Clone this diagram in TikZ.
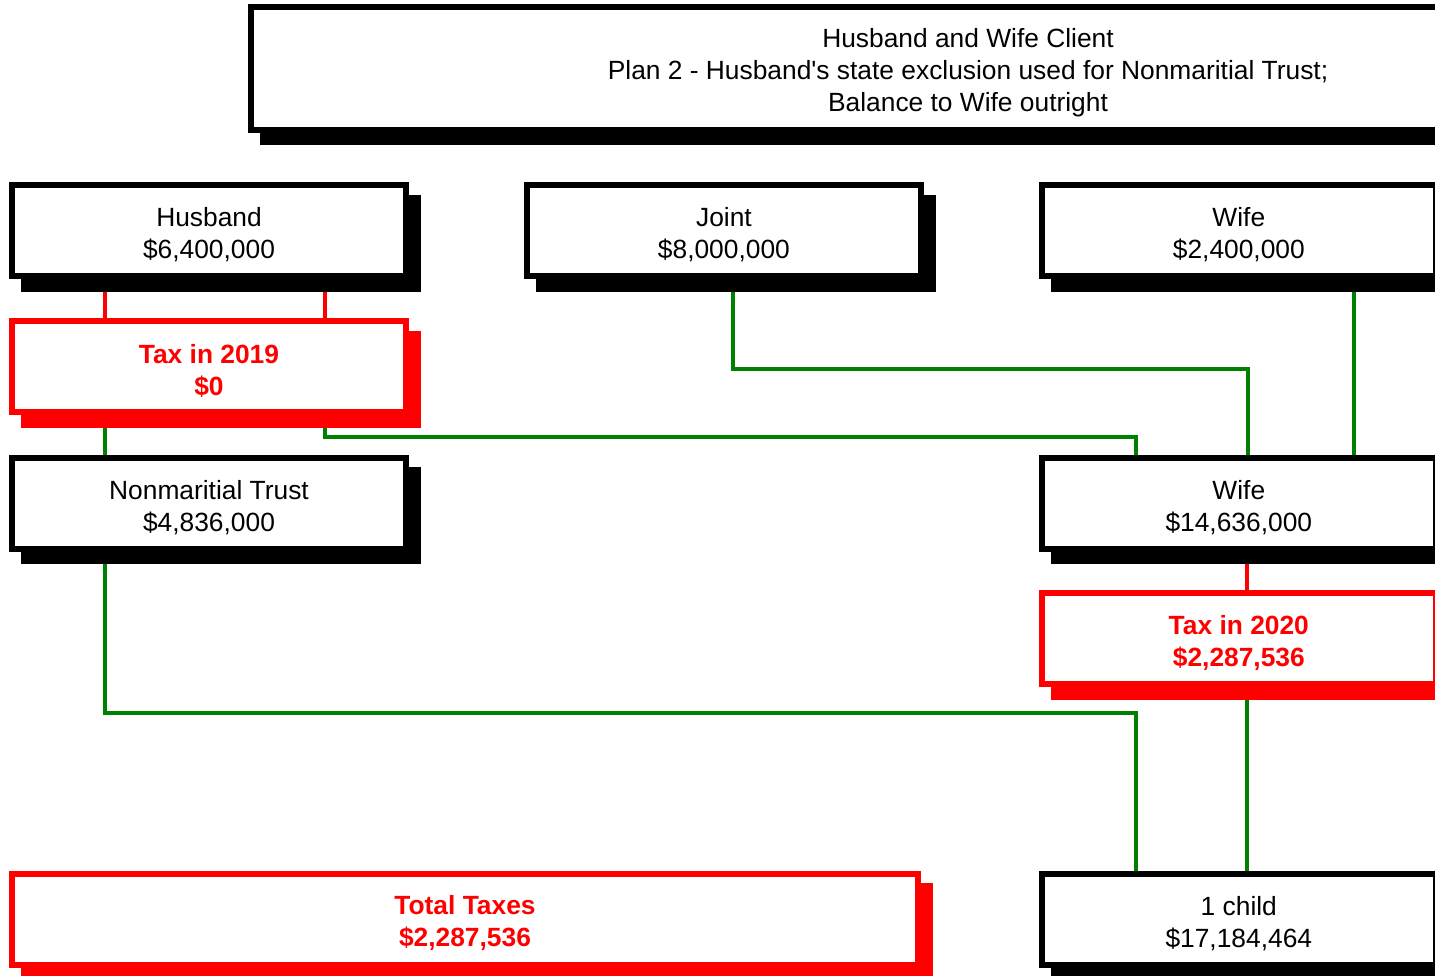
\documentclass[tikz,border=0pt]{standalone}
\usepackage{fontspec}
\setmainfont{Liberation Sans}
\usetikzlibrary{shadows}
\usetikzlibrary{backgrounds}
\definecolor{taxred}{RGB}{255,0,0}
\definecolor{giftgreen}{RGB}{0,128,0}

\begin{document}
\begin{tikzpicture}[x=0.02cm,y=-0.02cm,node distance=2.73cm,
  boxbase/.style={rectangle,fill=white,line width=0.12cm,minimum width=7.88cm,
    minimum height=1.82cm,align=center,text height=33.5pt,font=\fontsize{15}{18.2}\selectfont},
  estate/.style={boxbase,draw=black,
    general shadow={shadow xshift=0.24cm,shadow yshift=-0.25cm,fill=black,draw=black}},
  taxbox/.style={boxbase,draw=taxred,text=taxred,font=\fontsize{15}{18.2}\selectfont\bfseries,
    general shadow={shadow xshift=0.24cm,shadow yshift=-0.25cm,fill=taxred,draw=taxred}},
  taxlink/.style={draw=taxred,line width=0.07cm},
  giftlink/.style={draw=giftgreen,line width=0.07cm}]
  \useasboundingbox (0,0) rectangle (1435,975);
  \clip (0,0) rectangle (1435,975);

  \node[estate,minimum width=28.7cm,minimum height=2.46cm,text height=51.7pt] (title) at (968,68.5)
    {Husband and Wife Client\\Plan 2 - Husband\textquotesingle s state exclusion used for Nonmaritial Trust;\\Balance to Wife outright};
  \node[estate] (husband) at (209,230.5) {Husband\\\$6,400,000};
  \node[estate] (joint) [right of=husband,node distance=10.3cm] {Joint\\\$8,000,000};
  \node[estate] (wife) [right of=joint,node distance=10.3cm] {Wife\\\$2,400,000};
  \node[taxbox] (tax19) [below of=husband] {Tax in 2019\\\$0};
  \node[estate] (trust) [below of=tax19] {Nonmaritial Trust\\\$4,836,000};
  \node[estate] (survivor) [below of=wife,node distance=5.46cm] {Wife\\\$14,636,000};
  \node[taxbox] (tax20) [below of=survivor,node distance=2.71cm] {Tax in 2020\\\$2,287,536};
  \node[estate] (child) [below of=tax20,node distance=5.61cm] {1 child\\\$17,184,464};
  \node[taxbox,minimum width=18.12cm] (total) at (465,919) {Total Taxes\\\$2,287,536};

  \begin{scope}[on background layer]
    \draw[taxlink] ([xshift=-2.08cm]husband.south) -- ([xshift=-2.08cm]tax19.north);
    \draw[taxlink] ([xshift=2.32cm]husband.south) -- ([xshift=2.32cm]tax19.north);
    \draw[giftlink] ([xshift=-2.08cm]tax19.south) -- ([xshift=-2.08cm]trust.north);
    \draw[giftlink] ([xshift=2.32cm]tax19.south) |- ([xshift=-2.06cm,yshift=0.36cm]survivor.north)
      -- ([xshift=-2.06cm]survivor.north);
    \draw[giftlink] ([xshift=0.18cm]joint.south) |- ([xshift=0.18cm,yshift=1.72cm]survivor.north)
      -- ([xshift=0.18cm]survivor.north);
    \draw[giftlink] ([xshift=2.3cm]wife.south) -- ([xshift=2.3cm]survivor.north);
    \draw[taxlink] ([xshift=0.16cm]survivor.south) -- ([xshift=0.16cm]tax20.north);
    \draw[giftlink] ([xshift=0.16cm]tax20.south) -- ([xshift=0.16cm]child.north);
    \draw[giftlink] ([xshift=-2.08cm]trust.south) |- ([xshift=-2.06cm,yshift=3.16cm]child.north)
      -- ([xshift=-2.06cm]child.north);
  \end{scope}
\end{tikzpicture}
\end{document}
